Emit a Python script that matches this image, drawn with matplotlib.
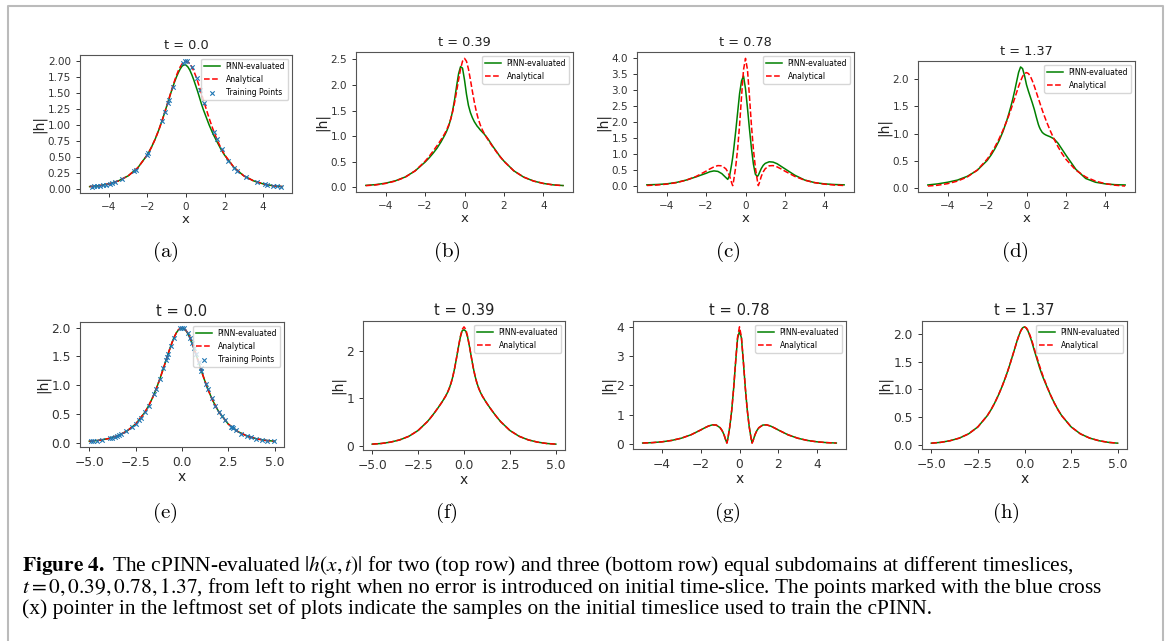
import matplotlib
matplotlib.use('Agg')
import matplotlib.pyplot as plt
from matplotlib.lines import Line2D

W, H = 1167, 641

# sample positions along x (shared by every curve)
x = [-5, -4.5, -4, -3.5, -3, -2.5, -2, -1.8, -1.6, -1.4, -1.2, -1, -0.9, -0.8, -0.7, -0.65,
     -0.6, -0.5, -0.4, -0.3, -0.2, -0.1, 0, 0.1, 0.2, 0.3, 0.4, 0.5, 0.6, 0.65, 0.7, 0.8,
     0.9, 1, 1.2, 1.4, 1.6, 1.8, 2, 2.5, 3, 3.5, 4, 4.5, 5]

# analytical |h| at each timeslice
ana_t0 = [0.030, 0.044, 0.073, 0.121, 0.199, 0.326, 0.532, 0.644, 0.776, 0.930, 1.105, 1.296,
          1.396, 1.495, 1.593, 1.640, 1.687, 1.774, 1.850, 1.913, 1.961, 1.990, 2.000, 1.990,
          1.961, 1.913, 1.850, 1.774, 1.687, 1.640, 1.593, 1.495, 1.396, 1.296, 1.105, 0.930,
          0.776, 0.644, 0.532, 0.326, 0.199, 0.121, 0.073, 0.044, 0.030]
ana_t039 = [0.030, 0.044, 0.073, 0.120, 0.197, 0.320, 0.506, 0.599, 0.701, 0.809, 0.923, 1.050,
            1.126, 1.218, 1.334, 1.405, 1.480, 1.662, 1.876, 2.103, 2.314, 2.466, 2.522, 2.466,
            2.314, 2.103, 1.876, 1.662, 1.480, 1.405, 1.334, 1.218, 1.126, 1.050, 0.923, 0.809,
            0.701, 0.599, 0.506, 0.320, 0.197, 0.120, 0.073, 0.044, 0.030]
ana_t078 = [0.030, 0.044, 0.072, 0.119, 0.196, 0.313, 0.477, 0.548, 0.611, 0.651, 0.644, 0.553,
            0.458, 0.315, 0.109, 0.025, 0.183, 0.594, 1.163, 1.917, 2.817, 3.645, 4.000, 3.645,
            2.817, 1.917, 1.163, 0.594, 0.183, 0.025, 0.109, 0.315, 0.458, 0.553, 0.644, 0.651,
            0.611, 0.548, 0.477, 0.313, 0.196, 0.119, 0.072, 0.044, 0.030]
ana_t137 = [0.030, 0.045, 0.074, 0.121, 0.198, 0.324, 0.524, 0.630, 0.754, 0.895, 1.055, 1.233,
            1.330, 1.431, 1.540, 1.595, 1.649, 1.760, 1.872, 1.970, 2.054, 2.108, 2.126, 2.108,
            2.054, 1.970, 1.872, 1.760, 1.649, 1.595, 1.540, 1.431, 1.330, 1.233, 1.055, 0.895,
            0.754, 0.630, 0.524, 0.324, 0.198, 0.121, 0.074, 0.045, 0.030]

# PINN-evaluated |h|, two subdomains (top row)
pinn2_t0 = [0.030, 0.044, 0.073, 0.121, 0.199, 0.326, 0.532, 0.644, 0.776, 0.930, 1.105, 1.296,
            1.390, 1.490, 1.580, 1.625, 1.670, 1.750, 1.820, 1.880, 1.925, 1.945, 1.940, 1.910,
            1.860, 1.790, 1.710, 1.620, 1.530, 1.480, 1.430, 1.330, 1.240, 1.160, 1.000, 0.860,
            0.740, 0.625, 0.525, 0.326, 0.199, 0.121, 0.073, 0.044, 0.030]
pinn2_t039 = [0.035, 0.050, 0.078, 0.125, 0.200, 0.320, 0.490, 0.570, 0.660, 0.760, 0.880, 1.020,
              1.100, 1.200, 1.330, 1.410, 1.500, 1.720, 1.980, 2.220, 2.360, 2.330, 2.100, 1.820,
              1.600, 1.460, 1.360, 1.280, 1.220, 1.190, 1.170, 1.120, 1.080, 1.040, 0.940, 0.820,
              0.710, 0.600, 0.510, 0.320, 0.197, 0.120, 0.073, 0.045, 0.032]
pinn2_t078 = [0.050, 0.060, 0.080, 0.125, 0.200, 0.300, 0.410, 0.460, 0.485, 0.470, 0.400, 0.280,
              0.220, 0.350, 0.700, 0.900, 1.150, 1.700, 2.300, 2.900, 3.300, 3.450, 3.050, 2.450,
              1.800, 1.200, 0.700, 0.380, 0.310, 0.350, 0.420, 0.560, 0.660, 0.720, 0.770, 0.760,
              0.710, 0.630, 0.550, 0.350, 0.200, 0.120, 0.080, 0.060, 0.050]
pinn2_t137 = [0.050, 0.070, 0.100, 0.140, 0.210, 0.320, 0.500, 0.600, 0.720, 0.860, 1.030, 1.240,
              1.360, 1.490, 1.630, 1.710, 1.790, 1.960, 2.130, 2.230, 2.200, 2.070, 1.900, 1.780,
              1.670, 1.560, 1.440, 1.300, 1.170, 1.120, 1.080, 1.020, 0.990, 0.970, 0.940, 0.900,
              0.820, 0.710, 0.600, 0.340, 0.170, 0.100, 0.070, 0.055, 0.050]

# PINN-evaluated |h|, three subdomains (bottom row)
pinn3_t0 = [0.030, 0.044, 0.073, 0.121, 0.199, 0.326, 0.532, 0.644, 0.776, 0.930, 1.105, 1.296,
            1.396, 1.495, 1.593, 1.640, 1.687, 1.774, 1.850, 1.913, 1.958, 1.980, 1.985, 1.980,
            1.955, 1.905, 1.845, 1.770, 1.685, 1.638, 1.590, 1.493, 1.395, 1.296, 1.105, 0.930,
            0.776, 0.644, 0.532, 0.326, 0.199, 0.121, 0.073, 0.044, 0.030]
pinn3_t039 = [0.030, 0.044, 0.073, 0.120, 0.197, 0.320, 0.506, 0.599, 0.701, 0.809, 0.923, 1.050,
              1.126, 1.218, 1.334, 1.405, 1.480, 1.662, 1.876, 2.100, 2.300, 2.440, 2.460, 2.430,
              2.300, 2.100, 1.876, 1.662, 1.480, 1.405, 1.334, 1.218, 1.126, 1.050, 0.923, 0.809,
              0.701, 0.599, 0.506, 0.320, 0.197, 0.120, 0.073, 0.044, 0.030]
pinn3_t078 = [0.030, 0.044, 0.072, 0.119, 0.196, 0.313, 0.477, 0.548, 0.611, 0.651, 0.644, 0.553,
              0.458, 0.315, 0.109, 0.040, 0.183, 0.594, 1.163, 1.917, 2.800, 3.600, 3.850, 3.620,
              2.800, 1.917, 1.163, 0.594, 0.183, 0.040, 0.109, 0.315, 0.458, 0.553, 0.644, 0.651,
              0.611, 0.548, 0.477, 0.313, 0.196, 0.119, 0.072, 0.044, 0.030]
pinn3_t137 = [0.030, 0.045, 0.074, 0.121, 0.198, 0.324, 0.524, 0.630, 0.754, 0.895, 1.055, 1.233,
              1.330, 1.431, 1.540, 1.595, 1.649, 1.760, 1.872, 1.970, 2.054, 2.108, 2.126, 2.100,
              2.040, 1.950, 1.850, 1.730, 1.620, 1.565, 1.510, 1.400, 1.300, 1.210, 1.050, 0.895,
              0.754, 0.630, 0.524, 0.324, 0.198, 0.121, 0.074, 0.045, 0.030]

# training samples on the initial timeslice
train2_x = [-4.9, -4.75, -4.6, -4.45, -4.3, -4.15, -3.95, -3.85, -3.7, -3.3, -2.7, -2.6, -2.0,
            -1.95, -1.25, -1.1, -0.95, -0.9, -0.7, -0.15, -0.05, 0.05, 0.3, 0.55, 0.75, 0.95,
            1.45, 1.6, 1.85, 2.2, 2.5, 2.65, 3.1, 3.7, 4.1, 4.2, 4.5, 4.7, 4.95]
train2_h = [0.030, 0.035, 0.040, 0.047, 0.054, 0.063, 0.077, 0.085, 0.099, 0.147, 0.268, 0.295,
            0.532, 0.558, 1.059, 1.199, 1.345, 1.395, 1.593, 1.978, 1.998, 1.998, 1.913, 1.732,
            1.545, 1.345, 0.889, 0.776, 0.614, 0.438, 0.326, 0.281, 0.180, 0.099, 0.066, 0.060,
            0.044, 0.036, 0.028]
train3_x = [-4.9, -4.8, -4.6, -4.3, -3.9, -3.8, -3.6, -3.5, -3.4, -3.3, -3.0, -2.7, -2.5, -2.3,
            -2.2, -2.0, -1.8, -1.5, -1.4, -1.2, -1.0, -0.85, -0.8, -0.75, -0.6, -0.45, -0.1, 0.0,
            0.1, 0.3, 0.45, 0.55, 0.65, 0.75, 0.9, 1.0, 1.05, 1.3, 1.4, 1.6, 1.8, 2.0, 2.15, 2.3,
            2.65, 2.7, 2.75, 2.9, 3.2, 3.5, 3.7, 4.0, 4.3, 4.6, 4.95]
train3_h = [0.030, 0.033, 0.040, 0.054, 0.081, 0.089, 0.109, 0.121, 0.134, 0.147, 0.199, 0.268,
            0.326, 0.397, 0.438, 0.532, 0.644, 0.850, 0.930, 1.105, 1.296, 1.446, 1.495, 1.545,
            1.687, 1.813, 1.990, 2.000, 1.990, 1.913, 1.813, 1.732, 1.640, 1.545, 1.396, 1.296,
            1.247, 1.015, 0.930, 0.776, 0.644, 0.532, 0.460, 0.397, 0.281, 0.268, 0.255, 0.219,
            0.163, 0.121, 0.099, 0.073, 0.054, 0.040, 0.028]

titles = ['t = 0.0', 't = 0.39', 't = 0.78', 't = 1.37']
labels = ['(a)', '(b)', '(c)', '(d)', '(e)', '(f)', '(g)', '(h)']
xticks_top = [-4, -2, 0, 2, 4]
xticks_bot = [-5.0, -2.5, 0.0, 2.5, 5.0]
yticks = [
    [0, 0.25, 0.5, 0.75, 1.0, 1.25, 1.5, 1.75, 2.0],
    [0, 0.5, 1.0, 1.5, 2.0, 2.5],
    [0, 0.5, 1.0, 1.5, 2.0, 2.5, 3.0, 3.5, 4.0],
    [0, 0.5, 1.0, 1.5, 2.0],
    [0, 0.5, 1.0, 1.5, 2.0],
    [0, 1, 2],
    [0, 1, 2, 3, 4],
    [0, 0.5, 1.0, 1.5, 2.0],
]

caption = (r'$\mathbf{Figure\ 4.}$ The cPINN-evaluated $|h(x,t)|$ for two (top row) and three '
           r'(bottom row) equal subdomains at different timeslices,' '\n'
           r'$t = 0, 0.39, 0.78, 1.37$, from left to right when no error is introduced on initial '
           r'time-slice. The points marked with the blue cross' '\n'
           '(x) pointer in the leftmost set of plots indicate the samples on the initial timeslice '
           'used to train the cPINN.')

# axes boxes in pixels: left, top, right, bottom
boxes = [(80, 55, 292, 193), (356, 52, 573, 192), (637, 52, 854, 192), (918, 61, 1135, 192),
         (80, 322, 284, 447), (363, 321, 565, 450), (633, 321, 846, 449), (922, 321, 1127, 449)]
label_pos = [(165, 252), (447, 252), (728, 252), (1015, 252),
             (165, 513), (446, 513), (727, 513), (1006, 513)]


def frac(x0, y0, x1, y1):
    return [x0 / W, 1 - y1 / H, (x1 - x0) / W, (y1 - y0) / H]


fig = plt.figure(figsize=(W / 100, H / 100), dpi=100)

ana = [ana_t0, ana_t039, ana_t078, ana_t137] * 2
pinn = [pinn2_t0, pinn2_t039, pinn2_t078, pinn2_t137,
        pinn3_t0, pinn3_t039, pinn3_t078, pinn3_t137]

for i in range(8):
    top = i < 4
    ax = fig.add_axes(frac(*boxes[i]))
    ax.plot(x, pinn[i], color='g', lw=1.1, label='PINN-evaluated')
    ax.plot(x, ana[i], 'r--', lw=1.1, label='Analytical')
    if i == 0:
        ax.scatter(train2_x, train2_h, marker='x', s=10, c='C0', lw=0.8, label='Training Points', zorder=3)
    if i == 4:
        ax.scatter(train3_x, train3_h, marker='x', s=10, c='C0', lw=0.8, label='Training Points', zorder=3)
    if top or i == 6:
        ax.set_xticks(xticks_top)
    else:
        ax.set_xticks(xticks_bot)
    ax.set_yticks(yticks[i])
    tfs = 7.5 if top else 8.8
    ax.tick_params(labelsize=tfs, length=3, width=0.7, colors='#333333')
    for s in ax.spines.values():
        s.set_color('#555555')
        s.set_linewidth(0.8)
    ax.set_title(titles[i % 4], fontsize=9.3 if top else 10.6, pad=4, color='#222222')
    ax.set_xlabel('x', fontsize=9.5 if top else 10, labelpad=1, color='#222222')
    ax.set_ylabel('|h|', fontsize=10, labelpad=1, color='#222222')
    ax.legend(loc='upper right', fontsize=5.5, framealpha=0.8, borderpad=0.4, labelspacing=0.5)
    lx, ly = label_pos[i]
    fig.text(lx / W, 1 - ly / H, r'$\mathrm{' + labels[i] + '}$', math_fontfamily='cm',
             fontsize=15, ha='center', va='center')

# light grey frame around the figure
fig.add_artist(Line2D([8 / W, 8 / W, 1163 / W, 1163 / W], [0, 1 - 6 / H, 1 - 6 / H, 0],
                      transform=fig.transFigure, color='#bbbbbb', lw=1.5))

# caption, one text block
fig.text(22 / W, 1 - 554 / H, caption, fontsize=15.4, family='Liberation Serif',
         math_fontfamily='stix', va='top', ha='left', linespacing=0.9)

fig.savefig('out.png', dpi=100)
